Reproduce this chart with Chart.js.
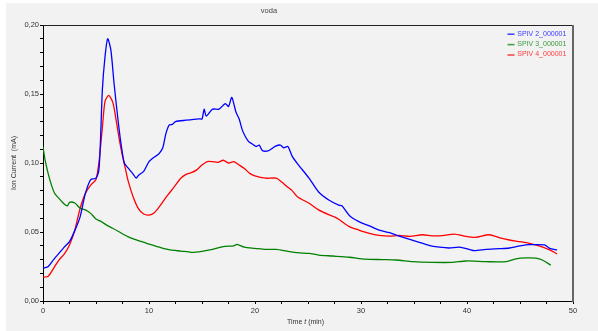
<!DOCTYPE html>
<html>
<head>
<meta charset="utf-8">
<script src="https://cdn.jsdelivr.net/npm/chart.js@4.4.0/dist/chart.umd.min.js"></script>
<style>
html,body{margin:0;padding:0;background:#fff;}
#wrap{position:relative;width:598px;height:331px;}
</style>
</head>
<body>
<div id="wrap"><canvas id="c" width="598" height="331"></canvas></div>
<script>
const chartTitle = "voda";
const xTitleParts = ["Time ", "t", " (min)"];
const yTitle = "Ion Current  (mA)";
const seriesLabels = ["SPIV 2_000001", "SPIV 3_000001", "SPIV 4_000001"];

const tBlue = [0,0.5,1,1.5,2,2.5,3,3.5,4,4.5,5,5.3,5.6,5.85,6.1,6.4,6.7,7.05,7.36,7.67,8,8.5,8.8,9,9.5,10,10.35,10.66,10.97,11.3,11.6,11.9,12.2,12.5,13.5,14.7,15.0,15.2,15.4,16,16.6,17.2,17.5,17.8,18.0,18.2,18.5,18.8,19.1,19.4,19.7,20.1,20.4,20.7,21.3,21.9,22.4,22.7,23.1,23.5,24,25.1,26,27,27.9,28.2,28.9,29.8,30.8,31.7,32.7,33.6,34.6,35.5,36.4,37.4,38.3,39.3,40.2,40.7,41.8,43.1,44,45,45.9,47.3,47.8,48.5];
const vBlue = [0.0237,0.025,0.030,0.0345,0.039,0.043,0.051,0.061,0.078,0.088,0.089,0.097,0.153,0.177,0.19,0.182,0.158,0.133,0.114,0.100,0.0966,0.092,0.089,0.091,0.094,0.101,0.1035,0.105,0.107,0.111,0.1215,0.1275,0.128,0.130,0.131,0.132,0.132,0.139,0.134,0.139,0.139,0.143,0.141,0.1476,0.143,0.137,0.132,0.124,0.119,0.1155,0.114,0.112,0.113,0.109,0.109,0.112,0.113,0.111,0.112,0.105,0.0996,0.089,0.079,0.073,0.0695,0.069,0.062,0.0575,0.0544,0.0514,0.0495,0.047,0.0447,0.0425,0.0403,0.039,0.0384,0.039,0.0374,0.0365,0.0374,0.0379,0.0384,0.0399,0.0408,0.0406,0.0382,0.037];

const tGreen = [0,0.2,0.5,0.8,1.1,1.5,2,2.3,2.5,3,3.5,4,4.5,5,5.5,6,7,8,9,10,11,12,13,14,15,16,17,18,18.3,19,20,21,22,23,24,25.1,26,27.3,28.9,30.4,32,33.3,34.9,36.7,38.6,39.9,41.8,43.7,44.6,45.6,46.5,47.1,47.9];
const vGreen = [0.1118,0.102,0.092,0.084,0.078,0.0744,0.0703,0.069,0.0715,0.071,0.0673,0.066,0.0635,0.0594,0.0575,0.055,0.0509,0.0466,0.0437,0.0413,0.039,0.037,0.0362,0.0353,0.036,0.0374,0.0394,0.040,0.041,0.039,0.0382,0.0374,0.0374,0.0362,0.035,0.0345,0.0333,0.0326,0.0317,0.0304,0.030,0.0297,0.0285,0.028,0.028,0.029,0.0285,0.0285,0.0305,0.0312,0.031,0.0297,0.026];

const tRed = [0,0.5,1,1.5,2,2.5,3,3.5,4,4.5,5,5.3,5.6,5.85,6.2,6.6,6.9,7.2,7.5,7.8,8,8.5,9,9.5,10,10.5,11,11.5,12,12.5,13,13.5,14,14.5,15,15.5,16,16.5,17,17.5,18,18.5,19,19.5,20,21,22,22.5,23,23.5,24,25.1,26,27,27.5,27.9,28.9,29.8,30.8,31.7,32.7,33.6,34.6,35.8,36.7,37.7,38.8,39.9,40.8,42.1,43.1,44,45,45.9,46.8,47.8,48.5];
const vRed = [0.0172,0.018,0.0237,0.0297,0.034,0.0406,0.0514,0.067,0.078,0.084,0.088,0.102,0.1256,0.1446,0.149,0.1436,0.131,0.117,0.105,0.095,0.088,0.0756,0.067,0.063,0.0623,0.064,0.0685,0.074,0.079,0.084,0.089,0.0918,0.093,0.095,0.0986,0.101,0.101,0.1005,0.102,0.100,0.101,0.0986,0.096,0.0925,0.0906,0.089,0.089,0.0864,0.083,0.080,0.0756,0.0708,0.066,0.0624,0.061,0.0592,0.0539,0.0514,0.049,0.0476,0.047,0.0475,0.0468,0.048,0.0472,0.0474,0.0485,0.0468,0.0461,0.048,0.0457,0.0442,0.043,0.0418,0.0399,0.037,0.0341];

const lineColors = ["#0000ff", "#008000", "#ff0000"];
const legendTextColors = ["#3a3aff", "#3a9a3a", "#ff3a3a"];

function pts(ts, vs){ return ts.map((t,i)=>({x:t, y:vs[i]})); }

const FONT = "'Liberation Sans', Arial, sans-serif";

const decor = {
  id: 'decor',
  beforeDraw(chart){
    const ctx = chart.ctx;
    ctx.save();
    ctx.fillStyle = '#ffffff';
    ctx.fillRect(0,0,chart.width,chart.height);
    ctx.fillStyle = '#f2f2f2';
    ctx.fillRect(6,3,chart.width-6,chart.height-3);
    ctx.restore();
  },
  afterDraw(chart){
    const ctx = chart.ctx, a = chart.chartArea;
    ctx.save();
    ctx.strokeStyle = '#222';
    ctx.lineWidth = 1;
    ctx.beginPath();
    ctx.moveTo(a.left, a.top + 0.5);
    ctx.lineTo(a.right, a.top + 0.5);
    ctx.stroke();
    ctx.strokeStyle = '#666';
    ctx.lineWidth = 2;
    ctx.beginPath();
    ctx.moveTo(a.right, a.top);
    ctx.lineTo(a.right, a.bottom + 1);
    ctx.stroke();
    ctx.fillStyle = '#444';
    ctx.font = "7.5px " + FONT;
    ctx.textAlign = 'center';
    ctx.textBaseline = 'middle';
    ctx.fillText(chartTitle, 269, 11);
    ctx.save();
    ctx.translate(14.5, (a.top + a.bottom)/2);
    ctx.rotate(-Math.PI/2);
    ctx.fillStyle = '#333';
    ctx.font = "7px " + FONT;
    ctx.fillText(yTitle, 0, 0);
    ctx.restore();
    ctx.textAlign = 'left';
    ctx.fillStyle = '#333';
    let x = 287;
    const y = 322.5;
    ctx.font = "7px " + FONT;
    ctx.fillText(xTitleParts[0], x, y); x += ctx.measureText(xTitleParts[0]).width;
    ctx.font = "italic 7px " + FONT;
    ctx.fillText(xTitleParts[1], x, y); x += ctx.measureText(xTitleParts[1]).width;
    ctx.font = "7px " + FONT;
    ctx.fillText(xTitleParts[2], x, y);
    chart.data.datasets.forEach((ds, i) => {
      const ly = 33.7 + i * 10.4;
      ctx.strokeStyle = ds.borderColor;
      ctx.globalAlpha = 0.75;
      ctx.lineWidth = 1.5;
      ctx.beginPath();
      ctx.moveTo(507.5, ly + 0.5);
      ctx.lineTo(514.5, ly + 0.5);
      ctx.stroke();
      ctx.globalAlpha = 1;
      ctx.fillStyle = legendTextColors[i];
      ctx.font = "7px " + FONT;
      ctx.textAlign = 'left';
      ctx.textBaseline = 'middle';
      ctx.fillText(ds.label, 517.3, ly);
    });
    ctx.restore();
  }
};

new Chart(document.getElementById('c'), {
  type: 'line',
  data: {
    datasets: [
      {label: seriesLabels[0], data: pts(tBlue, vBlue), borderColor: lineColors[0]},
      {label: seriesLabels[1], data: pts(tGreen, vGreen), borderColor: lineColors[1]},
      {label: seriesLabels[2], data: pts(tRed, vRed), borderColor: lineColors[2]}
    ].map(d => Object.assign(d, {borderWidth: 1.3, pointRadius: 0, tension: 0.25, fill: false}))
  },
  options: {
    responsive: false,
    animation: false,
    events: [],
    layout: {padding: {left: 0, top: 25, right: 25, bottom: 0}},
    plugins: {legend: {display: false}, title: {display: false}, tooltip: {enabled: false}},
    scales: {
      x: {
        type: 'linear', min: 0, max: 50,
        afterFit(s){ s.height = 30; },
        border: {display: true, color: '#000', width: 1},
        grid: {drawOnChartArea: false, drawTicks: true, tickLength: 3, color: '#000'},
        ticks: {
          stepSize: 2.5, autoSkip: false, maxRotation: 0, padding: 2,
          color: '#333', font: {family: FONT, size: 7.5},
          callback: v => (Math.round(v*10) % 100 === 0) ? String(v) : ''
        }
      },
      y: {
        type: 'linear', min: 0, max: 0.2,
        afterFit(s){ s.width = 43; },
        border: {display: true, color: '#000', width: 1},
        grid: {drawOnChartArea: false, drawTicks: true, tickLength: 3, color: '#000'},
        ticks: {
          stepSize: 0.01, autoSkip: false, padding: 1,
          color: '#333', font: {family: FONT, size: 7.5},
          callback: v => (Math.round(v*100) % 5 === 0) ? v.toFixed(2).replace('.', ',') : ''
        }
      }
    }
  },
  plugins: [decor]
});
</script>
</body>
</html>
